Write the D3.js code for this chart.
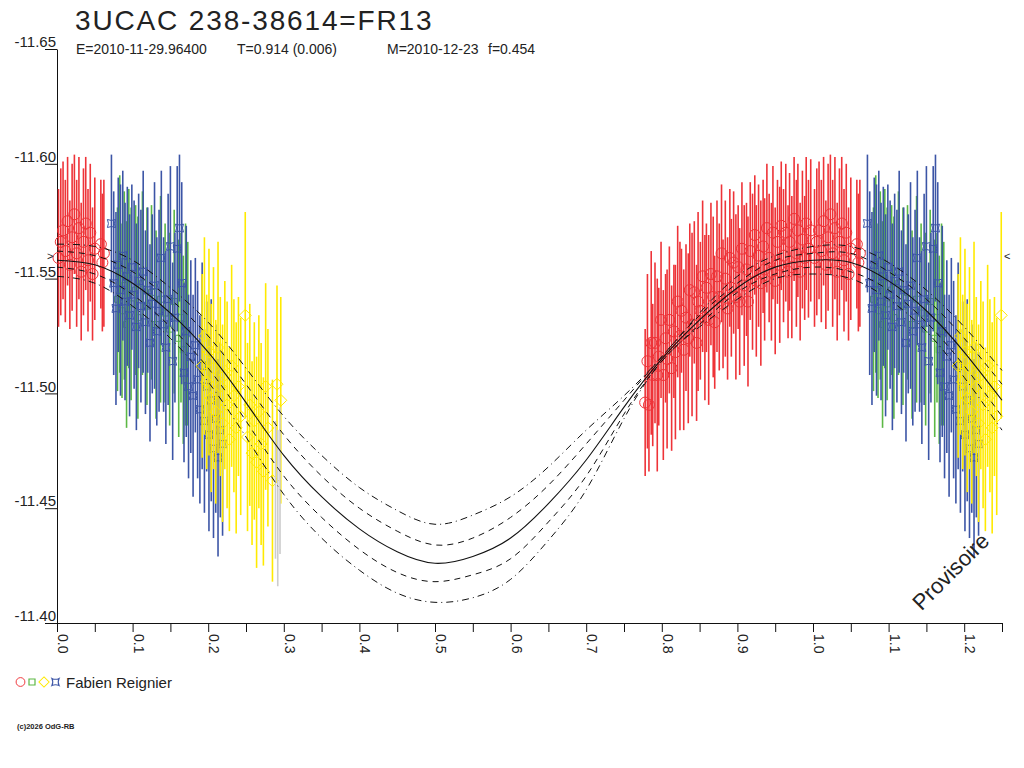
<!DOCTYPE html>
<html>
<head>
<meta charset="utf-8">
<script src="https://cdn.jsdelivr.net/npm/d3@7"></script>
<style>
  body { margin: 0; background: #fff; }
  svg { display: block; font-family: "Liberation Sans", Arial, sans-serif; }
</style>
</head>
<body>
<div id="chart"></div>
<script>
// ---- data ----
const titleText = "3UCAC 238-38614=FR13";
const infoParts = ["E=2010-11-29.96400", "T=0.914 (0.006)", "M=2010-12-23", "f=0.454"];
const observer = "Fabien Reignier";

const yTicks = [-11.65, -11.60, -11.55, -11.50, -11.45, -11.40];
const xTicks = [0,0.05,0.1,0.15,0.2,0.25,0.3,0.35,0.4,0.45,0.5,0.55,0.6,0.65,0.7,0.75,0.8,0.85,0.9,0.95,1,1.05,1.1,1.15,1.2,1.25];

// model light curve and its envelopes, sampled every 0.05 in phase
const phaseGrid = [0,0.05,0.1,0.15,0.2,0.25,0.3,0.35,0.4,0.45,0.5,0.55,0.6,0.65,0.7,0.75,0.8,0.85,0.9,0.95,1,1.05,1.1,1.15,1.2,1.25];
const modelMid = [-11.558,-11.556,-11.548,-11.535,-11.518,-11.496,-11.473,-11.455,-11.441,-11.431,-11.426,-11.429,-11.437,-11.452,-11.471,-11.494,-11.515,-11.532,-11.546,-11.555,-11.558,-11.557,-11.549,-11.536,-11.518,-11.497];
const modelInnerTop = [-11.562,-11.560,-11.553,-11.541,-11.525,-11.504,-11.482,-11.464,-11.450,-11.440,-11.434,-11.437,-11.446,-11.460,-11.478,-11.497,-11.516,-11.534,-11.548,-11.558,-11.561,-11.561,-11.553,-11.541,-11.524,-11.504];
const modelInnerBottom = [-11.555,-11.552,-11.543,-11.529,-11.511,-11.488,-11.464,-11.446,-11.432,-11.422,-11.418,-11.421,-11.428,-11.444,-11.464,-11.491,-11.514,-11.530,-11.544,-11.552,-11.555,-11.553,-11.545,-11.531,-11.512,-11.490];
const modelOuterTop = [-11.565,-11.564,-11.558,-11.546,-11.531,-11.511,-11.490,-11.473,-11.459,-11.449,-11.443,-11.447,-11.455,-11.468,-11.484,-11.499,-11.516,-11.535,-11.551,-11.560,-11.564,-11.564,-11.557,-11.545,-11.529,-11.510];
const modelOuterBottom = [-11.551,-11.548,-11.538,-11.524,-11.505,-11.481,-11.456,-11.437,-11.423,-11.413,-11.409,-11.411,-11.419,-11.436,-11.458,-11.489,-11.514,-11.529,-11.541,-11.550,-11.552,-11.550,-11.541,-11.527,-11.507,-11.484];

// observations: [phase, magnitude, error]
const redObs = [
  [0.002,-11.559,0.030],[0.005,-11.566,0.032],[0.008,-11.571,0.030],[0.011,-11.562,0.031],[0.014,-11.575,0.028],
  [0.017,-11.556,0.028],[0.020,-11.568,0.032],[0.023,-11.578,0.026],[0.026,-11.561,0.032],[0.029,-11.572,0.031],
  [0.032,-11.553,0.030],[0.035,-11.566,0.032],[0.038,-11.574,0.029],[0.041,-11.558,0.031],[0.044,-11.570,0.030],
  [0.047,-11.552,0.029],[0.050,-11.563,0.031],[0.058,-11.565,0.028],[0.060,-11.557,0.030],[0.062,-11.561,0.032],
  [0.778,-11.496,0.032],[0.781,-11.514,0.038],[0.783,-11.495,0.029],[0.786,-11.522,0.040],[0.788,-11.508,0.031],
  [0.791,-11.522,0.035],[0.794,-11.508,0.042],[0.796,-11.516,0.030],[0.799,-11.532,0.034],[0.802,-11.508,0.037],
  [0.805,-11.524,0.028],[0.807,-11.515,0.039],[0.810,-11.532,0.032],[0.813,-11.511,0.036],[0.816,-11.527,0.029],
  [0.818,-11.518,0.038],[0.821,-11.540,0.033],[0.824,-11.525,0.041],[0.826,-11.536,0.027],[0.829,-11.519,0.035],
  [0.832,-11.533,0.032],[0.835,-11.524,0.037],[0.837,-11.545,0.029],[0.840,-11.530,0.040],[0.843,-11.544,0.031],
  [0.846,-11.522,0.034],[0.848,-11.540,0.039],[0.851,-11.536,0.030],[0.854,-11.551,0.033],[0.857,-11.533,0.036],
  [0.859,-11.546,0.028],[0.862,-11.532,0.037],[0.865,-11.552,0.031],[0.868,-11.542,0.035],[0.870,-11.531,0.029],
  [0.873,-11.551,0.033],[0.876,-11.542,0.032],[0.879,-11.561,0.030],[0.881,-11.539,0.028],[0.884,-11.550,0.034],
  [0.887,-11.537,0.031],[0.890,-11.559,0.030],[0.892,-11.546,0.030],[0.895,-11.557,0.031],[0.898,-11.542,0.036],
  [0.901,-11.555,0.027],[0.903,-11.540,0.032],[0.906,-11.563,0.029],[0.909,-11.547,0.035],[0.912,-11.554,0.029],
  [0.914,-11.540,0.037],[0.917,-11.562,0.030],[0.920,-11.553,0.034],[0.923,-11.569,0.026],[0.925,-11.549,0.033],
  [0.928,-11.560,0.031],[0.931,-11.548,0.036],[0.934,-11.564,0.029],[0.936,-11.554,0.031],[0.939,-11.572,0.028],
  [0.942,-11.559,0.028],[0.945,-11.553,0.030],[0.947,-11.570,0.029],[0.950,-11.549,0.032],[0.953,-11.566,0.027],
  [0.956,-11.556,0.034],[0.958,-11.573,0.028],[0.961,-11.560,0.029],[0.964,-11.570,0.030],[0.967,-11.553,0.029],
  [0.969,-11.566,0.030],[0.972,-11.555,0.031],[0.975,-11.576,0.027],[0.978,-11.561,0.032],[0.980,-11.571,0.029],
  [0.983,-11.553,0.030],[0.986,-11.567,0.030],[0.989,-11.559,0.027],[0.991,-11.574,0.029],[0.994,-11.563,0.030],
  [0.997,-11.571,0.031]
];
const greenObs = [
  [0.080,-11.541,0.040],[0.083,-11.552,0.043],[0.086,-11.536,0.038],[0.089,-11.547,0.041],[0.092,-11.530,0.045],
  [0.095,-11.550,0.039],[0.098,-11.539,0.042],[0.104,-11.545,0.037],[0.107,-11.533,0.044],[0.113,-11.548,0.040],
  [0.119,-11.538,0.043],[0.125,-11.544,0.038],[0.131,-11.530,0.041],[0.137,-11.541,0.045],[0.143,-11.535,0.039],
  [0.149,-11.528,0.042],[0.155,-11.540,0.040],[0.161,-11.524,0.043],[0.164,-11.533,0.037],[0.167,-11.519,0.041],
  [0.170,-11.530,0.044],[0.173,-11.526,0.040]
];
const blueObs = [
  [0.072,-11.574,0.030],[0.075,-11.548,0.040],[0.078,-11.537,0.042],[0.081,-11.556,0.038],[0.084,-11.545,0.046],
  [0.087,-11.560,0.037],[0.090,-11.540,0.043],[0.093,-11.551,0.039],[0.096,-11.534,0.044],[0.099,-11.555,0.036],
  [0.102,-11.543,0.041],[0.105,-11.529,0.045],[0.108,-11.549,0.038],[0.111,-11.538,0.042],[0.114,-11.553,0.044],
  [0.117,-11.531,0.040],[0.120,-11.545,0.036],[0.123,-11.522,0.043],[0.126,-11.539,0.039],[0.129,-11.547,0.045],
  [0.132,-11.527,0.041],[0.135,-11.536,0.044],[0.138,-11.559,0.038],[0.141,-11.530,0.038],[0.144,-11.520,0.042],
  [0.147,-11.541,0.046],[0.150,-11.564,0.035],[0.153,-11.514,0.043],[0.156,-11.533,0.037],[0.159,-11.563,0.036],
  [0.162,-11.572,0.032],[0.165,-11.548,0.044],[0.168,-11.509,0.039],[0.171,-11.527,0.046],[0.174,-11.503,0.040],
  [0.177,-11.516,0.042],[0.180,-11.499,0.044],[0.183,-11.521,0.038],[0.186,-11.506,0.043],[0.189,-11.493,0.041],
  [0.192,-11.512,0.045],[0.195,-11.488,0.040],[0.198,-11.503,0.037],[0.201,-11.482,0.042],[0.204,-11.497,0.044],
  [0.207,-11.476,0.039],[0.210,-11.489,0.041],[0.213,-11.472,0.043],[0.216,-11.484,0.038],[0.219,-11.478,0.040]
];
const yellowObs = [
  [0.192,-11.512,0.040],[0.195,-11.525,0.043],[0.198,-11.505,0.038],[0.201,-11.518,0.045],[0.204,-11.498,0.041],
  [0.207,-11.511,0.044],[0.210,-11.492,0.040],[0.213,-11.520,0.046],[0.216,-11.503,0.039],[0.219,-11.487,0.043],
  [0.222,-11.508,0.041],[0.225,-11.495,0.045],[0.228,-11.480,0.040],[0.231,-11.512,0.044],[0.234,-11.499,0.042],
  [0.237,-11.485,0.046],[0.240,-11.503,0.039],[0.243,-11.490,0.043],[0.249,-11.534,0.045],[0.252,-11.481,0.041],
  [0.255,-11.495,0.044],[0.258,-11.474,0.040],[0.261,-11.488,0.043],[0.264,-11.470,0.046],[0.267,-11.492,0.042],
  [0.270,-11.478,0.044],[0.273,-11.466,0.041],[0.276,-11.503,0.045],[0.279,-11.485,0.043],[0.285,-11.462,0.044],
  [0.291,-11.504,0.043],[0.296,-11.497,0.045]
];
const grayObs = [[0.289,-11.458,0.030],[0.292,-11.450,0.034],[0.295,-11.462,0.032]];

// ---- layout ----
const W = 1024, H = 768;
const x = d3.scaleLinear().domain([0, 1.25]).range([57, 1002]);
const y = d3.scaleLinear().domain([-11.65, -11.40]).range([49, 623]);

const svg = d3.select("#chart").append("svg")
  .attr("width", W).attr("height", H);

// titles
svg.append("text")
  .attr("x", 75).attr("y", 30)
  .attr("font-size", 28).attr("letter-spacing", 1.85)
  .attr("fill", "#222")
  .text(titleText);

const infoX = [76, 237, 387, 488];
svg.append("g").selectAll("text")
  .data(infoParts)
  .join("text")
  .attr("x", (d, i) => infoX[i]).attr("y", 54)
  .attr("font-size", 14).attr("fill", "#222")
  .text(d => d);

// axes
const xAxis = svg.append("g")
  .attr("transform", "translate(0,623)")
  .call(d3.axisBottom(x).tickValues(xTicks).tickSize(9).tickSizeOuter(0).tickFormat(""));
xAxis.selectAll("path, line").attr("stroke", "#111");

svg.append("g").selectAll("text")
  .data(xTicks.filter(d => Math.round(d * 100) % 10 === 0))
  .join("text")
  .attr("transform", d => "translate(" + (x(d) + 1) + ",634) rotate(90)")
  .attr("font-size", 14).attr("fill", "#222")
  .text(d => d.toFixed(1));

const yAxis = svg.append("g")
  .attr("transform", "translate(57,0)")
  .call(d3.axisLeft(y).tickValues(yTicks).tickSize(12).tickSizeOuter(0).tickFormat(d => d.toFixed(2)));
yAxis.selectAll("path, line").attr("stroke", "#111");
yAxis.selectAll("text")
  .attr("x", -1).attr("dy", "-0.15em")
  .attr("font-size", 15).attr("font-family", "Liberation Sans, Arial, sans-serif")
  .attr("fill", "#222");

// symbols
const sym = {
  circle: "M-5.5,0A5.5,5.5 0 1,0 5.5,0A5.5,5.5 0 1,0 -5.5,0Z",
  square: "M-3,-3H3V3H-3Z",
  diamond: "M0,-6L6,0L0,6L-6,0Z",
  cross: "M-4,-4Q0,-2 4,-4Q2,0 4,4Q0,2 -4,4Q-2,0 -4,-4Z"
};
const groups = [
  {data: greenObs, color: "#5cb845", shape: sym.square},
  {data: blueObs, color: "#3c55a6", shape: sym.cross},
  {data: yellowObs, color: "#ffea00", shape: sym.diamond},
  {data: grayObs, color: "#cccccc", shape: null},
  {data: redObs, color: "#ee3338", shape: sym.circle}
];

// repeat phases 0..0.25 after 1.0
function expand(arr) {
  const out = [];
  arr.forEach(d => {
    out.push(d);
    if (d[0] + 1 <= 1.25) out.push([d[0] + 1, d[1], d[2]]);
  });
  return out;
}

const dataLayer = svg.append("g");
groups.forEach(g => {
  const pts = expand(g.data);
  const layer = dataLayer.append("g");
  layer.selectAll("line")
    .data(pts)
    .join("line")
    .attr("x1", d => x(d[0])).attr("x2", d => x(d[0]))
    .attr("y1", d => y(d[1] - d[2])).attr("y2", d => y(d[1] + d[2]))
    .attr("stroke", g.color).attr("stroke-width", 1.6);
  if (g.shape) {
    layer.selectAll("path")
      .data(pts)
      .join("path")
      .attr("d", g.shape)
      .attr("transform", d => "translate(" + x(d[0]) + "," + y(d[1]) + ")")
      .attr("fill", "none").attr("stroke", g.color).attr("stroke-width", 1);
  }
});

// model curves on top
const curves = [
  {vals: modelOuterTop, dash: "7,4,1,4", w: 1},
  {vals: modelInnerTop, dash: "6,5", w: 1},
  {vals: modelMid, dash: null, w: 1.1},
  {vals: modelInnerBottom, dash: "6,5", w: 1},
  {vals: modelOuterBottom, dash: "7,4,1,4", w: 1}
];
const line = d3.line()
  .x(d => x(d[0])).y(d => y(d[1]))
  .curve(d3.curveNatural);
curves.forEach(c => {
  svg.append("path")
    .datum(phaseGrid.map((p, i) => [p, c.vals[i]]))
    .attr("d", line)
    .attr("fill", "none").attr("stroke", "#111")
    .attr("stroke-width", c.w)
    .attr("stroke-dasharray", c.dash);
});

// max markers
svg.append("text").attr("x", 47).attr("y", 260).attr("font-size", 11).attr("fill", "#222").text(">");
svg.append("text").attr("x", 1004).attr("y", 260).attr("font-size", 11).attr("fill", "#222").text("<");

// watermark
svg.append("text")
  .attr("transform", "translate(956,577) rotate(-45)")
  .attr("text-anchor", "middle")
  .attr("font-size", 22).attr("fill", "#222")
  .text("Provisoire");

// legend
const leg = svg.append("g").attr("transform", "translate(0,682)");
[[sym.circle, "#ee3338", 20.5, 0.8], [sym.square, "#5cb845", 32, 1], [sym.diamond, "#ffea00", 44, 0.85], [sym.cross, "#3c55a6", 55.5, 0.9]]
  .forEach(s => {
    leg.append("path").attr("d", s[0])
      .attr("transform", "translate(" + s[2] + ",0) scale(" + s[3] + ")")
      .attr("fill", "none").attr("stroke", s[1]).attr("stroke-width", 1.2);
  });
leg.append("text").attr("x", 66).attr("y", 5.5)
  .attr("font-size", 15).attr("fill", "#222")
  .text(observer);

svg.append("text").attr("x", 17).attr("y", 729)
  .attr("font-size", 7.5).attr("font-weight", "bold").attr("fill", "#222")
  .text("(c)2026 OdG-RB");
</script>
</body>
</html>
